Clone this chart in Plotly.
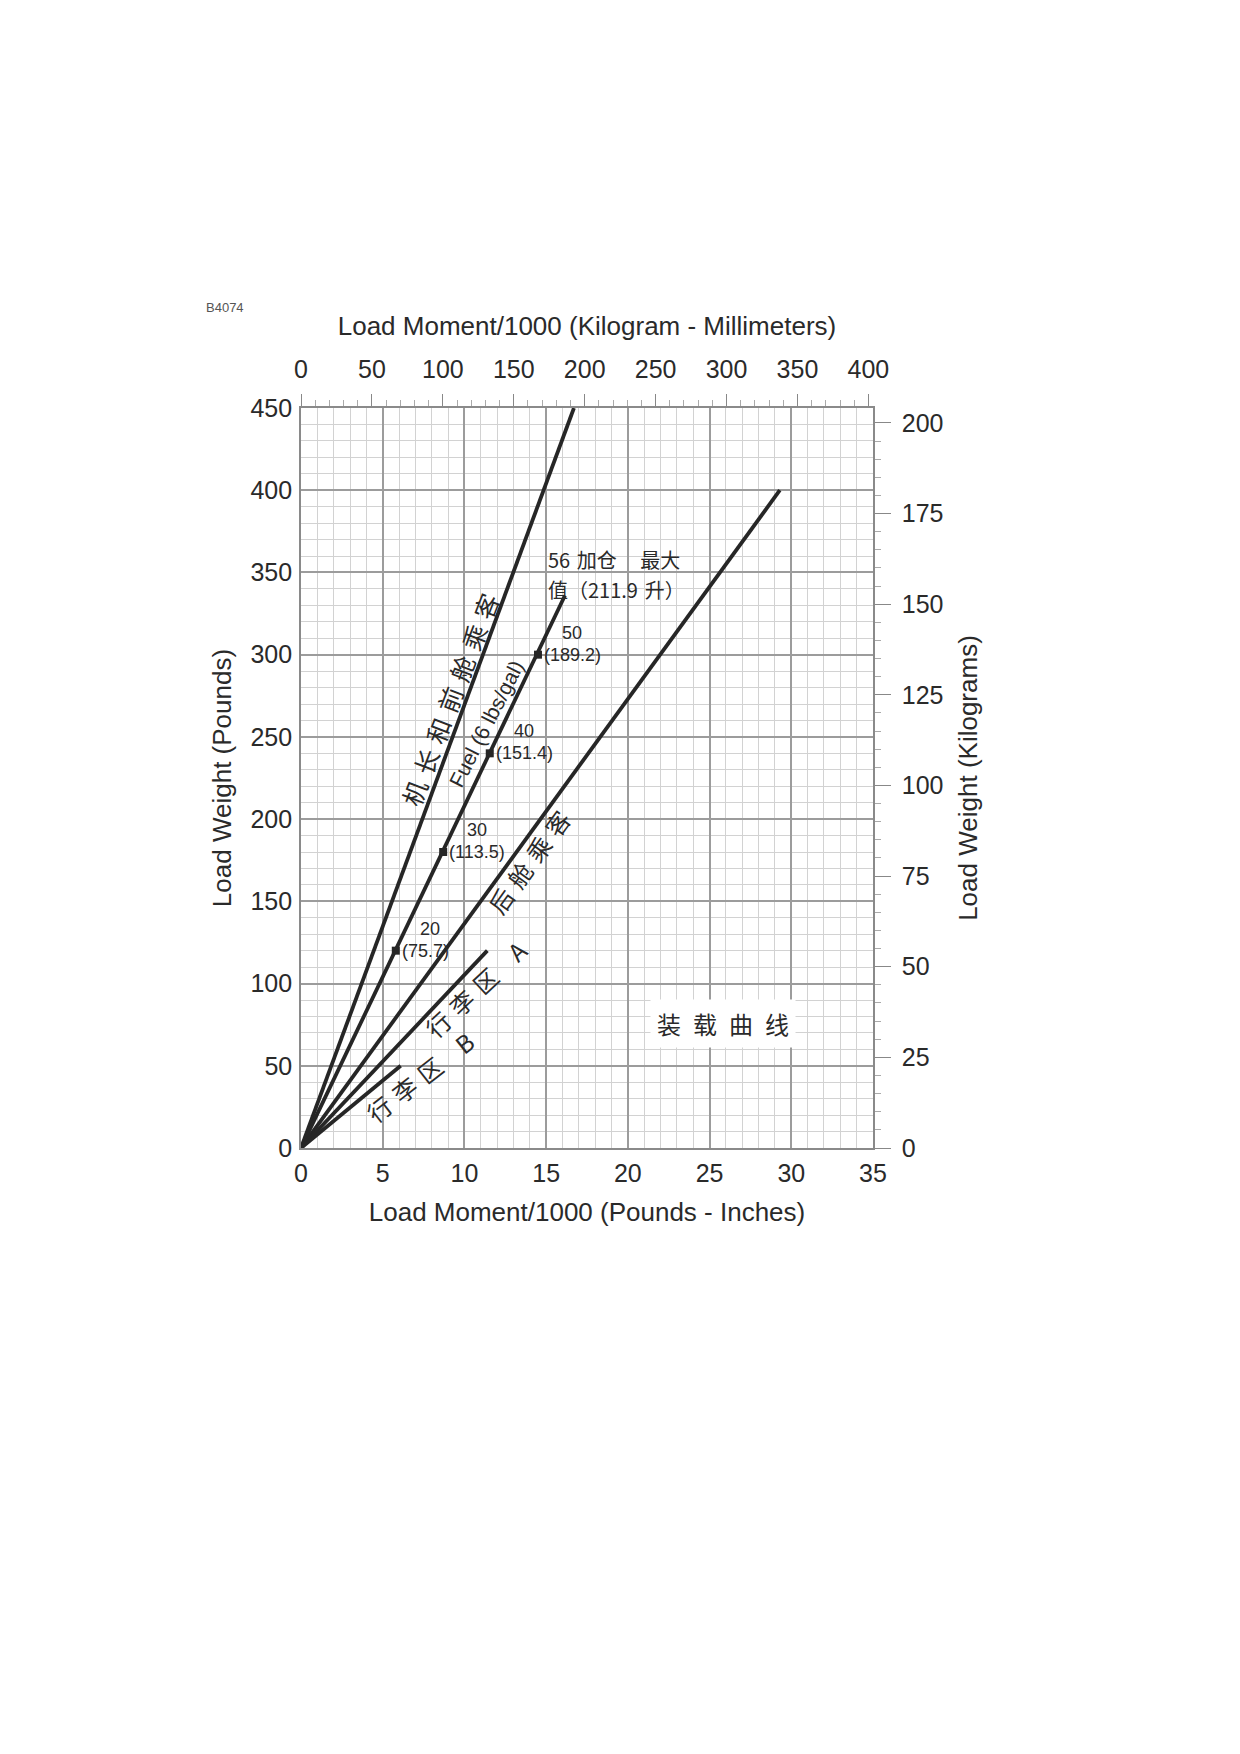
import plotly.graph_objects as go

# ---- data ----
front_moment = [0, 16.7]
front_weight = [0, 450]
fuel_moment = [0, 16.15]
fuel_weight = [0, 336]
fuel_mark_moment = [5.8, 8.7, 11.55, 14.5]
fuel_mark_weight = [120, 180, 240, 300]
fuel_gallons = ["20", "30", "40", "50"]
fuel_litres = ["(75.7)", "(113.5)", "(151.4)", "(189.2)"]
rear_moment = [0, 29.3]
rear_weight = [0, 400]
bagA_moment = [0, 11.4]
bagA_weight = [0, 120]
bagB_moment = [0, 6.1]
bagB_weight = [0, 50]

x_ticks = list(range(0, 36, 5))
y_ticks = list(range(0, 451, 50))
kgmm_ticks = list(range(0, 401, 50))
kg_ticks = list(range(0, 201, 25))

LBIN_TO_KGMM = 0.45359237 * 25.4
LB_TO_KG = 0.45359237
X_MAX = 35
Y_MAX = 450

LINE = "#262626"
TXT = "#2a2a2a"
SANS = "Liberation Sans, Arial, sans-serif"
CJK = "Noto Sans CJK SC, sans-serif"
EN = "\u2002"      # en space
TS = "\u2004"      # three-per-em space

fig = go.Figure()
for xs, ys in [(front_moment, front_weight), (fuel_moment, fuel_weight),
               (rear_moment, rear_weight), (bagA_moment, bagA_weight),
               (bagB_moment, bagB_weight)]:
    fig.add_trace(go.Scatter(x=xs, y=ys, mode="lines",
                             line=dict(color=LINE, width=3.8),
                             hoverinfo="skip", showlegend=False))

fig.add_trace(go.Scatter(x=fuel_mark_moment, y=fuel_mark_weight, mode="markers",
                         marker=dict(symbol="square", size=8, color=LINE),
                         hoverinfo="skip", showlegend=False))

# dummy trace so the secondary (metric) axes are drawn
fig.add_trace(go.Scatter(x=[0], y=[0], xaxis="x2", yaxis="y2", mode="markers",
                         marker=dict(opacity=0), hoverinfo="skip", showlegend=False))

annotations = []
for xm, ym, g, l in zip(fuel_mark_moment, fuel_mark_weight, fuel_gallons, fuel_litres):
    annotations.append(dict(x=xm, y=ym, xref="x", yref="y", text=l,
                            showarrow=False, xanchor="left", yanchor="middle",
                            xshift=4,
                            font=dict(family=SANS, size=18, color=TXT)))
    annotations.append(dict(x=xm, y=ym, xref="x", yref="y", text=g,
                            showarrow=False, xanchor="center", yanchor="middle",
                            xshift=34, yshift=22,
                            font=dict(family=SANS, size=18, color=TXT)))

rot_labels = [
    (TS.join("机长和前舱乘客"), 9.1, 273, -69, 25, CJK),
    ("Fuel (6 lbs/gal)", 11.35, 258, -63, 21, SANS),
    (TS.join("后舱乘客"), 13.95, 174, -54, 24, CJK),
    (TS.join("行李区") + EN + EN + "A", 10.7, 97, -43, 24, CJK),
    (TS.join("行李区") + EN + EN + "B", 7.3, 43.5, -38, 24, CJK),
]
for t, x, y, a, s, f in rot_labels:
    annotations.append(dict(x=x, y=y, xref="x", yref="y", text=t, textangle=a,
                            showarrow=False, xanchor="center", yanchor="middle",
                            font=dict(family=f, size=s, color=TXT)))

# "56 gallons max (211.9 litres)" note, two lines
fuel_note = ["56" + TS + "加仓" + EN + TS + TS + "最大", "值（211.9" + TS + "升）"]
for i, line_text in enumerate(fuel_note):
    annotations.append(dict(x=15.0, y=349, xref="x", yref="y", text=line_text,
                            showarrow=False, xanchor="left", yanchor="middle",
                            yshift=15 - 30 * i,
                            font=dict(family=CJK, size=20, color=TXT)))

annotations.append(dict(x=25.8, y=76, xref="x", yref="y", text=EN.join("装载曲线"),
                        showarrow=False, xanchor="center", yanchor="middle",
                        bgcolor="white", borderpad=6,
                        font=dict(family=CJK, size=24, color=TXT)))
annotations.append(dict(x=-0.17, y=1.136, xref="paper", yref="paper",
                        text="B4074", showarrow=False, xanchor="left", yanchor="middle",
                        font=dict(family=SANS, size=13, color="#555")))

fig.update_layout(
    width=1240, height=1754,
    margin=dict(l=293, r=375, t=400, b=614),
    paper_bgcolor="white", plot_bgcolor="white",
    font=dict(family=SANS, color=TXT),
    annotations=annotations,
    xaxis=dict(range=[0, X_MAX], tickvals=x_ticks, ticks="", showgrid=True,
               gridcolor="#9c9c9c", gridwidth=1.6, zeroline=False,
               minor=dict(dtick=1, showgrid=True, gridcolor="#d2d2d2", gridwidth=1),
               showline=True, linecolor="#8a8a8a", linewidth=1.6, mirror=False,
               tickfont=dict(size=25), ticklabelstandoff=2,
               title=dict(text="Load Moment/1000 (Pounds - Inches)",
                          font=dict(size=26), standoff=17)),
    yaxis=dict(range=[0, Y_MAX], tickvals=y_ticks, ticks="", showgrid=True,
               gridcolor="#9c9c9c", gridwidth=1.6, zeroline=False,
               minor=dict(dtick=10, showgrid=True, gridcolor="#d2d2d2", gridwidth=1),
               showline=True, linecolor="#8a8a8a", linewidth=1.6,
               tickfont=dict(size=25), ticklabelstandoff=2,
               title=dict(text="Load Weight (Pounds)", font=dict(size=26), standoff=11)),
    xaxis2=dict(range=[0, X_MAX * LBIN_TO_KGMM], tickvals=kgmm_ticks, overlaying="x",
                side="top", anchor="y", showgrid=False, zeroline=False,
                ticks="outside", ticklen=12, tickcolor="#888", tickwidth=1,
                minor=dict(dtick=10, ticks="outside", ticklen=6, tickcolor="#aaa"),
                showline=True, linecolor="#8a8a8a", linewidth=1.6,
                tickfont=dict(size=25), ticklabelstandoff=6,
                title=dict(text="Load Moment/1000 (Kilogram - Millimeters)",
                           font=dict(size=26), standoff=12)),
    yaxis2=dict(range=[0, Y_MAX * LB_TO_KG], tickvals=kg_ticks, overlaying="y",
                side="right", anchor="x", showgrid=False, zeroline=False,
                ticks="outside", ticklen=16, tickcolor="#888", tickwidth=1,
                minor=dict(dtick=5, ticks="outside", ticklen=6, tickcolor="#aaa"),
                showline=True, linecolor="#8a8a8a", linewidth=1.6,
                tickfont=dict(size=25), ticklabelstandoff=6,
                title=dict(text="Load Weight (Kilograms)", font=dict(size=26), standoff=16)),
)

fig.write_html("out.html")
